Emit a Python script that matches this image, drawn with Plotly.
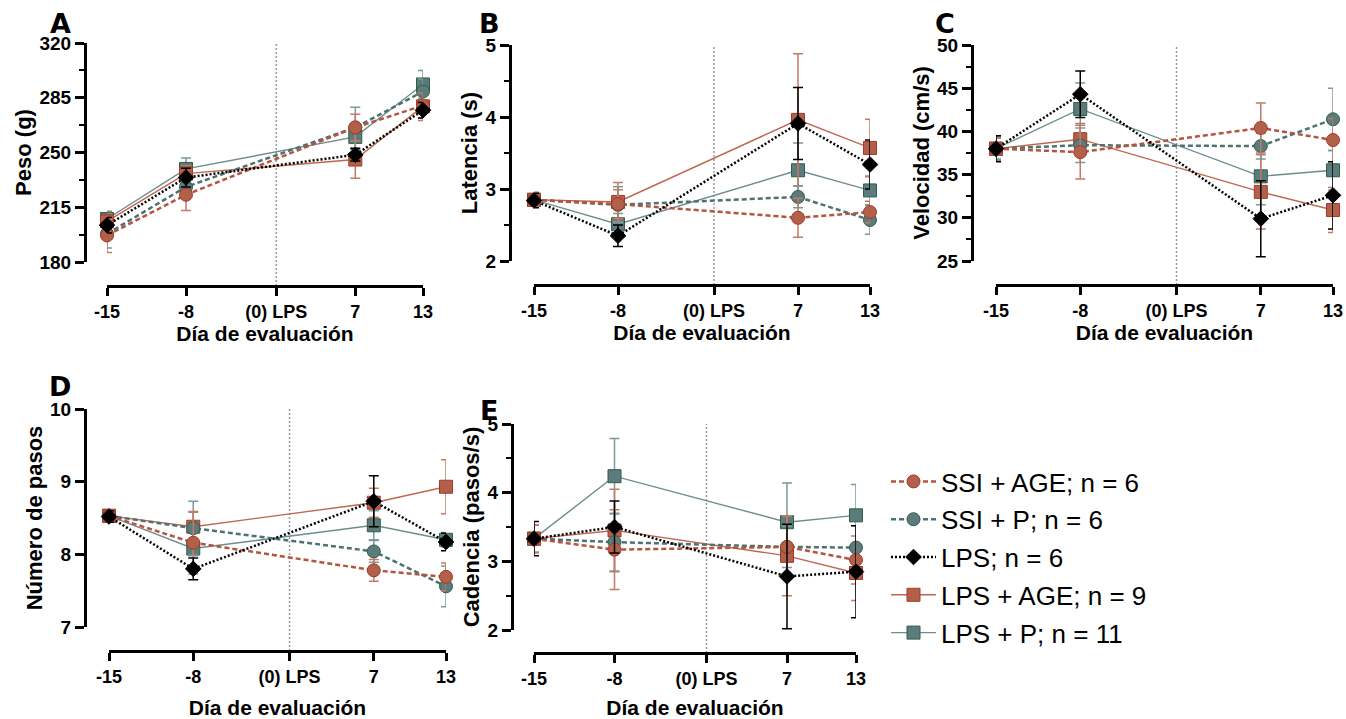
import plotly.graph_objects as go

W, H = 1346, 719

# shared x values (evaluation days), no measurement at day 0
days = [-15, -8, 7, 13]
tick_vals = [-15, -8, 0, 7, 13]
tick_text = ["-15", "-8", "(0) LPS", "7", "13"]

groups = ["SSI + AGE; n = 6", "SSI + P; n = 6", "LPS; n = 6",
          "LPS + AGE; n = 9", "LPS + P; n = 11"]

# A - Peso (g)
peso = {
    "SSI + AGE; n = 6": [197, 223, 266, 280],
    "SSI + P; n = 6": [198, 228, 266, 289],
    "LPS; n = 6": [203.5, 234, 248.5, 277],
    "LPS + AGE; n = 9": [206, 236.5, 245.5, 279.5],
    "LPS + P; n = 11": [207.5, 239.5, 260, 293.5],
}
peso_err = {
    "SSI + AGE; n = 6": [11, 10, 8.5, 8],
    "SSI + P; n = 6": [9, 6, 13, 8],
    "LPS; n = 6": [5, 6, 4, 5],
    "LPS + AGE; n = 9": [5, 5, 12, 9],
    "LPS + P; n = 11": [5, 7, 8, 9],
}

# B - Latencia (s)
latencia = {
    "SSI + AGE; n = 6": [2.85, 2.79, 2.60, 2.68],
    "SSI + P; n = 6": [2.85, 2.78, 2.89, 2.57],
    "LPS; n = 6": [2.84, 2.35, 3.91, 3.34],
    "LPS + AGE; n = 9": [2.85, 2.82, 3.96, 3.57],
    "LPS + P; n = 11": [2.85, 2.51, 3.26, 2.98],
}
latencia_err = {
    "SSI + AGE; n = 6": [0.1, 0.2, 0.27, 0.15],
    "SSI + P; n = 6": [0.1, 0.25, 0.15, 0.2],
    "LPS; n = 6": [0.1, 0.15, 0.5, 0.34],
    "LPS + AGE; n = 9": [0.1, 0.27, 0.92, 0.4],
    "LPS + P; n = 11": [0.08, 0.15, 0.38, 0.2],
}

# C - Velocidad (cm/s)
velocidad = {
    "SSI + AGE; n = 6": [38.0, 37.6, 40.4, 39.0],
    "SSI + P; n = 6": [38.0, 38.4, 38.3, 41.4],
    "LPS; n = 6": [38.0, 44.3, 29.9, 32.6],
    "LPS + AGE; n = 9": [38.0, 39.1, 33.0, 30.9],
    "LPS + P; n = 11": [38.0, 42.6, 34.8, 35.5],
}
velocidad_err = {
    "SSI + AGE; n = 6": [1.4, 3.1, 2.9, 2.5],
    "SSI + P; n = 6": [1.3, 2.0, 1.5, 3.6],
    "LPS; n = 6": [1.5, 2.7, 4.4, 3.9],
    "LPS + AGE; n = 9": [1.3, 1.8, 4.3, 2.6],
    "LPS + P; n = 11": [1.2, 3.0, 3.3, 2.3],
}

# D - Numero de pasos
pasos = {
    "SSI + AGE; n = 6": [8.53, 8.16, 7.78, 7.69],
    "SSI + P; n = 6": [8.53, 8.36, 8.04, 7.56],
    "LPS; n = 6": [8.52, 7.80, 8.73, 8.17],
    "LPS + AGE; n = 9": [8.53, 8.38, 8.71, 8.93],
    "LPS + P; n = 11": [8.53, 8.08, 8.40, 8.20],
}
pasos_err = {
    "SSI + AGE; n = 6": [0.08, 0.43, 0.15, 0.19],
    "SSI + P; n = 6": [0.08, 0.37, 0.15, 0.28],
    "LPS; n = 6": [0.08, 0.15, 0.35, 0.12],
    "LPS + AGE; n = 9": [0.08, 0.2, 0.2, 0.37],
    "LPS + P; n = 11": [0.08, 0.1, 0.2, 0.1],
}

# E - Cadencia (pasos/s)
cadencia = {
    "SSI + AGE; n = 6": [3.33, 3.17, 3.21, 3.02],
    "SSI + P; n = 6": [3.33, 3.28, 3.21, 3.20],
    "LPS; n = 6": [3.33, 3.50, 2.78, 2.85],
    "LPS + AGE; n = 9": [3.33, 3.45, 3.08, 2.83],
    "LPS + P; n = 11": [3.33, 4.24, 3.57, 3.67],
}
cadencia_err = {
    "SSI + AGE; n = 6": [0.2, 0.58, 0.45, 0.35],
    "SSI + P; n = 6": [0.2, 0.42, 0.3, 0.32],
    "LPS; n = 6": [0.25, 0.38, 0.76, 0.67],
    "LPS + AGE; n = 9": [0.2, 0.6, 0.58, 0.4],
    "LPS + P; n = 11": [0.2, 0.55, 0.57, 0.45],
}

ORANGE = "#b2604a"
TEAL = "#5b7b7d"
styles = {
    "SSI + AGE; n = 6": dict(symbol="circle", fill=ORANGE, edge="#a5392b", line="#b5543f",
                             dash="5px,3px", lw=2.5, err="#c47a66", size=13),
    "SSI + P; n = 6": dict(symbol="circle", fill=TEAL, edge="#2f5f45", line="#4e7272",
                           dash="5px,3px", lw=2.5, err="#7d9999", size=13),
    "LPS; n = 6": dict(symbol="diamond", fill="black", edge="black", line="black",
                       dash="2px,2px", lw=2.5, err="black", size=12),
    "LPS + AGE; n = 9": dict(symbol="square", fill=ORANGE, edge="#a5392b", line="#c0664f",
                             dash="solid", lw=1.4, err="#c47a66", size=13),
    "LPS + P; n = 11": dict(symbol="square", fill=TEAL, edge="#2f5f45", line="#6e8b8d",
                            dash="solid", lw=1.4, err="#7d9999", size=13),
}
draw_order = ["LPS + P; n = 11", "LPS + AGE; n = 9", "SSI + P; n = 6",
              "SSI + AGE; n = 6", "LPS; n = 6"]

# panel geometry in pixels: y-axis x, y-axis top/bottom, x-axis y, x-axis left/right
panels = [
    dict(letter="A", data=peso, err=peso_err, title="Peso (g)", yr=[180, 320], dt=35, minor=17.5,
         yx=85, yt=43, yb=262, xy=286, xl=107, xr=423, lx=60, ly=23, xts=3),
    dict(letter="B", data=latencia, err=latencia_err, title="Latencia (s)", yr=[2, 5], dt=1, minor=0.5,
         yx=510, yt=45, yb=261, xy=285, xl=534, xr=870, lx=489, ly=23, xts=3),
    dict(letter="C", data=velocidad, err=velocidad_err, title="Velocidad (cm/s)", yr=[25, 50], dt=5, minor=2.5,
         yx=972, yt=45, yb=261, xy=285, xl=996, xr=1333, lx=945, ly=23, xts=3),
    dict(letter="D", data=pasos, err=pasos_err, title="Número de pasos", yr=[7, 10], dt=1, minor=None,
         yx=85, yt=409, yb=627, xy=651, xl=109, xr=446, lx=60, ly=386, xts=21),
    dict(letter="E", data=cadencia, err=cadencia_err, title="Cadencia (pasos/s)", yr=[2, 5], dt=1, minor=0.5,
         yx=512, yt=424, yb=630, xy=653, xl=534, xr=856, lx=489, ly=410, xts=19),
]


def px(x):
    return x / W


def py(y):
    return 1 - y / H


FONT = "Liberation Sans, Arial, sans-serif"
fig = go.Figure()

for i, p in enumerate(panels, start=1):
    xa = "x" if i == 1 else f"x{i}"
    ya = "y" if i == 1 else f"y{i}"
    for g in draw_order:
        s = styles[g]
        fig.add_trace(go.Scatter(
            x=days, y=p["data"][g], xaxis=xa, yaxis=ya,
            mode="lines+markers", name=g, legendgroup=g,
            legendrank=groups.index(g) + 1, showlegend=(i == 1),
            line=dict(color=s["line"], width=s["lw"], dash=s["dash"]),
            marker=dict(symbol=s["symbol"], size=s["size"], color=s["fill"],
                        line=dict(color=s["edge"], width=1)),
            error_y=dict(type="data", array=p["err"][g], color=s["err"],
                         thickness=1.5, width=5),
            cliponaxis=False,
        ))

    suffix = "" if i == 1 else str(i)
    fig.layout["xaxis" + suffix] = dict(
        domain=[px(p["xl"]), px(p["xr"])], range=[-15, 13],
        anchor="free", position=py(p["xy"]), automargin=False,
        tickvals=tick_vals, ticktext=tick_text,
        showline=True, linecolor="black", linewidth=3,
        ticks="outside", ticklen=8, tickwidth=3, tickcolor="black",
        showgrid=False, zeroline=False,
        tickfont=dict(family=FONT, size=18, color="black", weight="bold"),
        title=dict(text="Día de evaluación", standoff=p["xts"],
                   font=dict(family=FONT, size=21, color="black", weight="bold")),
    )
    yax = dict(
        domain=[py(p["yb"]), py(p["yt"])], range=p["yr"],
        anchor="free", position=px(p["yx"]), automargin=False,
        dtick=p["dt"], tick0=p["yr"][0],
        showline=True, linecolor="black", linewidth=3,
        ticks="outside", ticklen=9, tickwidth=3, tickcolor="black",
        showgrid=False, zeroline=False,
        tickfont=dict(family=FONT, size=19, color="black", weight="bold"),
        title=dict(text=p["title"], standoff=0,
                   font=dict(family=FONT, size=22, color="black", weight="bold")),
    )
    if p["minor"]:
        yax["minor"] = dict(dtick=p["minor"], tick0=p["yr"][0], ticks="outside",
                            ticklen=5, tickwidth=2, tickcolor="black", showgrid=False)
    fig.layout["yaxis" + suffix] = yax

    # vertical reference line at day 0 (LPS injection)
    fig.add_shape(type="line", xref=xa, yref="paper", x0=0, x1=0,
                  y0=py(p["xy"]), y1=py(p["yt"]),
                  line=dict(color="#9a9a9a", width=1.5, dash="2px,2px"), layer="below")

    fig.add_annotation(x=px(p["lx"]), y=py(p["ly"]), xref="paper", yref="paper",
                       xanchor="center", yanchor="middle",
                       text=p["letter"], showarrow=False,
                       font=dict(family="DejaVu Sans", size=27, color="black", weight="bold"))

fig.update_layout(
    width=W, height=H,
    margin=dict(l=0, r=0, t=0, b=0),
    paper_bgcolor="white", plot_bgcolor="white",
    showlegend=True,
    legend=dict(x=px(886), y=py(458), xanchor="left", yanchor="top",
                traceorder="grouped", tracegroupgap=1, itemwidth=45,
                font=dict(family=FONT, size=26, color="black"),
                bgcolor="rgba(0,0,0,0)"),
)

fig.write_html("out.html", config={"displayModeBar": False},
               post_script="document.body.style.margin='0px';")
